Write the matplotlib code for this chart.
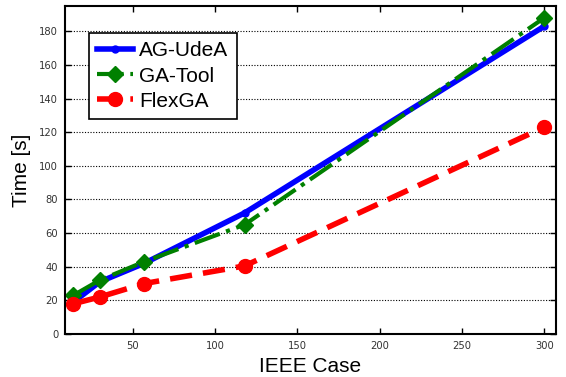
import matplotlib
matplotlib.use("Agg")
import matplotlib.pyplot as plt

cases = [14, 30, 57, 118, 300]
ag_udea = [19, 31, 42, 72, 183]
ga_tool = [23, 32, 43, 65, 188]
flexga = [18, 22, 30, 40.5, 123]

plt.rcParams['font.family'] = ['Liberation Sans', 'DejaVu Sans']

fig = plt.figure(figsize=(5.66, 3.77), dpi=100)
ax = fig.add_axes([0.115, 0.114, 0.867, 0.870])

ax.plot(cases, ag_udea, color='blue', lw=4, marker='o', ms=5, label='AG-UdeA')
ax.plot(cases, ga_tool, color='green', lw=3, ls='-.', marker='D', ms=8, label='GA-Tool')
ax.plot(cases, flexga, color='red', lw=4, ls=(0, (4, 2)), marker='o', ms=10, label='FlexGA')

ax.set_xlim(9, 307)
ax.set_ylim(0, 195)
ax.set_xticks([50, 100, 150, 200, 250, 300])
ax.set_yticks(range(0, 181, 20))
ax.yaxis.grid(True, color='black', ls=(0, (1, 1.5)), lw=0.8)
ax.tick_params(direction='in', top=True, right=True, labelsize=8, length=4, width=1, pad=5)
for lab in ax.get_xticklabels() + ax.get_yticklabels():
    lab.set_family('DejaVu Sans')
    lab.set_stretch('condensed')
    lab.set_color('#333333')
for s in ax.spines.values():
    s.set_linewidth(1.5)
ax.set_xlabel('IEEE Case', fontsize=15, labelpad=4)
ax.set_ylabel('Time [s]', fontsize=15, labelpad=6)

leg = ax.legend(loc='upper left', bbox_to_anchor=(0.049, 0.918), borderaxespad=0,
                fontsize=15, frameon=True,
                fancybox=False, edgecolor='black', framealpha=1, handlelength=1.7,
                borderpad=0.4, labelspacing=0.3, handletextpad=0.3)
leg.get_frame().set_linewidth(1.2)

fig.savefig('out.png', dpi=100)
